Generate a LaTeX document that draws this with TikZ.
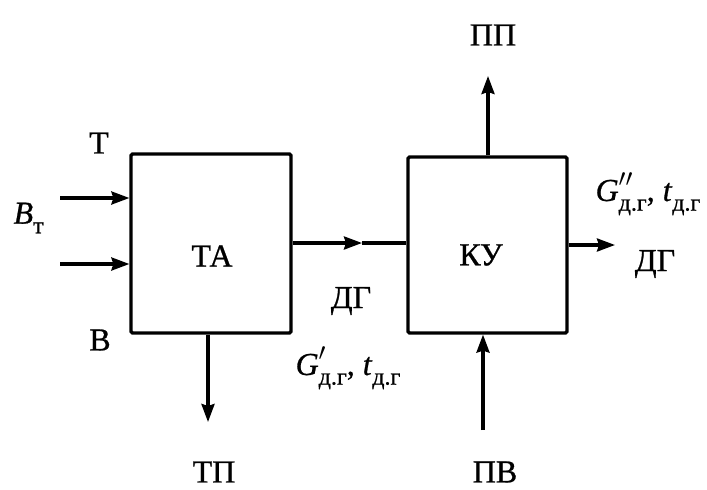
\documentclass[tikz,border=0pt]{standalone}
\usepackage{fontspec}
\setmainfont{Liberation Serif}[FakeBold=0.8]
\usetikzlibrary{arrows.meta}
\newcommand{\lowsub}[1]{\raisebox{-0.3em}{\fontsize{24}{24}\selectfont #1}}
\newcommand{\primemark}[1]{\rlap{\raisebox{0.45em}{\fontsize{24}{24}\selectfont$#1$}}}
\begin{document}
\begin{tikzpicture}[x=1pt,y=-1pt,
  line width=3.2pt,
  boxnode/.style={draw,line width=3.2pt,rounded corners=1.5pt,inner sep=0pt},
  txt/.style={font=\fontsize{32}{32}\selectfont,inner sep=0pt},
  flow/.style={-{Stealth[length=18pt,width=13pt,inset=2pt]}}]
\useasboundingbox (0,0) rectangle (707,490);
\fill[white] (0,0) rectangle (707,490);
% boxes
\node[boxnode,minimum width=160pt,minimum height=179pt] (ta) at (211,243.5) {};
\node[boxnode,minimum width=159pt,minimum height=176pt] (ku) at (487.5,245) {};
\node[txt] (talbl) at (212,256) {ТА};
\node[txt] (kulbl) at (481,255) {КУ};
% left inputs
\coordinate (in1) at (60,198);
\coordinate (in2) at (60,264);
\draw[flow] (in1) -- (in1 -| ta.west);
\draw[flow] (in2) -- (in2 -| ta.west);
\node[txt] (tlbl) at (99,143) {Т};
\node[txt] (blbl) at (100,340) {В};
\node[txt,anchor=west] (btlbl) at (12,218) {\textit{B}\lowsub{т}};
% middle flow
\coordinate (mid) at (362,243);
\draw[flow] (mid -| ta.east) -- (mid);
\draw (mid) -- (mid -| ku.west);
\node[txt] (dg1) at (351,301) {ДГ};
\node[txt] (g1) at (348,368) {\textit{G}\primemark{\prime}\lowsub{д.г}, \textit{t}\lowsub{д.г}};
% ТП
\coordinate (tpend) at (208,422);
\draw[flow] (tpend |- ta.south) -- (tpend);
\node[txt] (tp) at (214,472) {ТП};
% ПВ
\coordinate (pvstart) at (483,430);
\draw[flow] (pvstart) -- (pvstart |- ku.south);
\node[txt] (pv) at (495,472) {ПВ};
% ПП
\coordinate (ppend) at (488,76);
\draw[flow] (ppend |- ku.north) -- (ppend);
\node[txt] (pp) at (493,35) {ПП};
% right output
\coordinate (outend) at (615,245);
\draw[flow] (outend -| ku.east) -- (outend);
\node[txt] (dg2) at (655,264) {ДГ};
\node[txt,anchor=west] (g2) at (594,194) {\textit{G}\primemark{\prime\prime}\lowsub{д.г}, \textit{t}\lowsub{д.г}};
\end{tikzpicture}
\end{document}
